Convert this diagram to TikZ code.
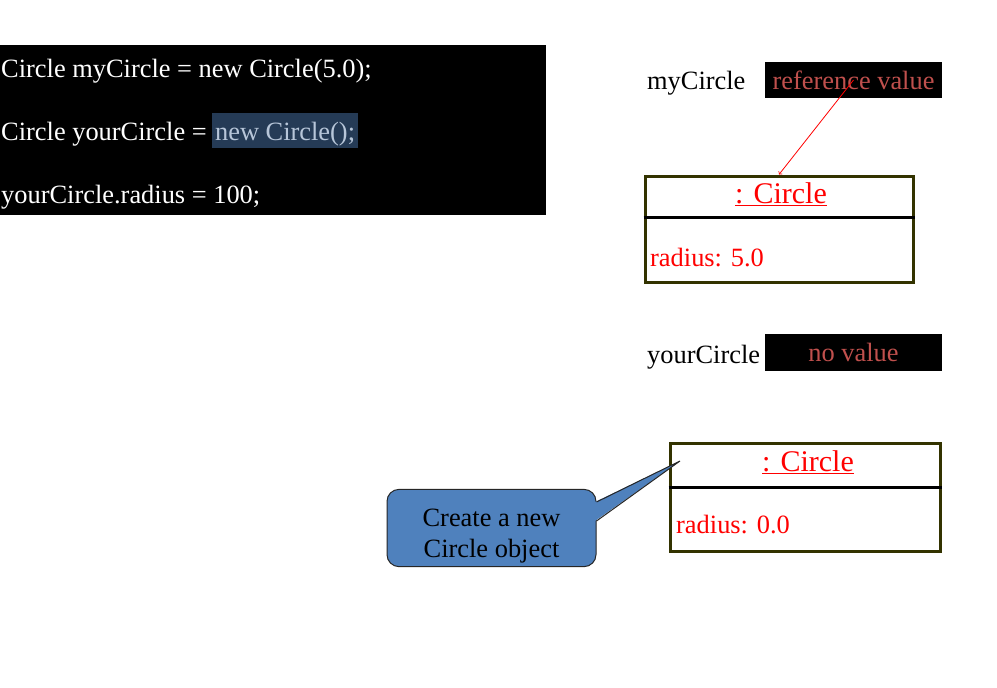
\documentclass[tikz,border=0pt]{standalone}
\usepackage{fontspec}
\setmainfont{Liberation Serif}
\usetikzlibrary{calc,positioning}
\definecolor{valred}{HTML}{C0504D}
\definecolor{hlblue}{HTML}{253B56}
\definecolor{hltext}{HTML}{B7C6D9}
\definecolor{boxolive}{HTML}{333300}
\definecolor{noteblue}{HTML}{4F81BD}
\tikzstyle{codeline} = [anchor=base west, inner sep=0pt, text=white]
\tikzstyle{hlbox} = [anchor=base west, fill=hlblue, text=hltext, inner xsep=3pt, inner ysep=1.5pt, text height=25.5pt, text depth=6.5pt]
\tikzstyle{varlabel} = [anchor=base west, inner sep=0pt]
\tikzstyle{valbox} = [fill=black, text=valred, minimum width=177pt, minimum height=36pt, inner sep=0pt]
\tikzstyle{objbox} = [rectangle, draw=boxolive, line width=3pt]
\tikzstyle{sepline} = [line width=3pt]
\tikzstyle{objtitle} = [anchor=base, text=red, inner sep=0pt, font=\fontsize{30}{36}\selectfont]
\tikzstyle{objfield} = [anchor=base west, text=red, inner sep=0pt]
\tikzstyle{reflink} = [->, red, line width=0.8pt]
\tikzstyle{notebox} = [rectangle, rounded corners=12pt, fill=noteblue, draw=black!85, line width=1pt, align=center, minimum width=209pt, minimum height=76pt]

\begin{document}
\begin{tikzpicture}[x=1pt, y=-1pt, font=\fontsize{26.4}{31}\selectfont]
            \useasboundingbox (0,0) rectangle (997,688);

            % code panel
            \node (codepanel) [fill=black, minimum width=546pt, minimum height=170pt, inner sep=0pt, anchor=north west] at (0,45) {};
            \node (code1) [codeline] at (1,77) {Circle myCircle = new Circle(5.0);};
            \node (code2) [codeline] at (1,140) {Circle yourCircle =};
            \node (code2new) [hlbox] at ($(code2.base east)+(5,0)$) {new Circle();};
            \node (code3) [codeline] at (1,203) {yourCircle.radius = 100;};

            % variables
            \node (mylabel) [varlabel] at (647,89) {myCircle};
            \node (myval) [valbox] at (853.5,80) {reference value};
            \node (yourlabel) [varlabel] at (647,363) {yourCircle};
            \node (yourval) [valbox, minimum height=37pt] at (853.5,352.5) {no value};

            % objects
            \node (obj1) [objbox, minimum width=268pt, minimum height=106pt] at (779,229) {};
            \coordinate (sep1) at (0,217);
            \draw [sepline] (obj1.west |- sep1) -- (obj1.east |- sep1);
            \node (obj1title) [objtitle] at (781,203) {\underline{: Circle}};
            \node (obj1field) [objfield] at (650,266) {radius: 5.0};

            \node (obj2) [objbox, minimum width=270pt, minimum height=108pt] at (805,497) {};
            \coordinate (sep2) at (0,487);
            \draw [sepline] (obj2.west |- sep2) -- (obj2.east |- sep2);
            \node (obj2title) [objtitle] at (808,471) {\underline{: Circle}};
            \node (obj2field) [objfield] at (676,533) {radius: 0.0};

            \draw [reflink] (myval.center) -- (obj1.north);

            % callout
            \node (note) [notebox] at (491.5,528) {\rule{0pt}{34pt}Create a new\\Circle object};
            \coordinate (notetip) at (680,461);
            \coordinate (nbtop) at ($(note.east)+(0,-26)$);
            \coordinate (nbbot) at ($(note.east)+(0,-7)$);
            \fill [noteblue] ($(nbtop)+(-1.5,0)$) -- (notetip) -- ($(nbbot)+(-1.5,0)$) -- cycle;
            \draw [black!85, line width=1pt] (nbtop) -- (notetip) -- (nbbot);
        \end{tikzpicture}
\end{document}
